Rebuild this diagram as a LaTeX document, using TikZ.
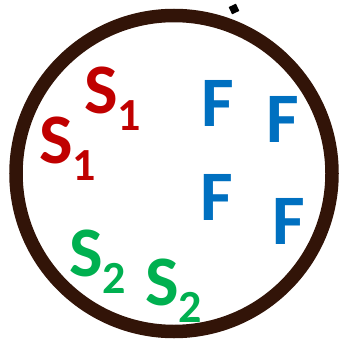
\documentclass[tikz,border=0pt]{standalone}
\usepackage{fontspec}
\setmainfont{Carlito}
\definecolor{ringbrown}{RGB}{50,20,8}
\definecolor{sred}{RGB}{192,0,0}
\definecolor{fblue}{RGB}{0,112,192}
\definecolor{sgreen}{RGB}{0,176,80}
\newcommand{\lbl}[2]{S\raisebox{-17pt}{\fontsize{46}{46}\selectfont #1}}
\begin{document}
\begin{tikzpicture}[x=1pt,y=-1pt,
  lab/.style={anchor=base west,inner sep=0pt,font=\fontsize{71}{71}\selectfont\bfseries},
  redlab/.style={lab,text=sred},
  bluelab/.style={lab,text=fblue},
  greenlab/.style={lab,text=sgreen}]
\useasboundingbox (0,0) rectangle (340,340);
\node[circle,draw=ringbrown,line width=13.5pt,minimum size=316pt,inner sep=0pt] (ring) at (174,173.5) {};
\fill[black,rotate around={25:(234,9)}] (230,5) rectangle (238,13);
\node[redlab] (s1a) at (84,113) {\lbl{1}{}};
\node[redlab] (s1b) at (39,163) {\lbl{1}{}};
\node[bluelab] (f1) at (201,126) {F};
\node[bluelab] (f2) at (266,142) {F};
\node[bluelab] (f3) at (200,220) {F};
\node[bluelab] (f4) at (272,244) {F};
\node[greenlab] (s2a) at (69,276) {\lbl{2}{}};
\node[greenlab] (s2b) at (145,305) {\lbl{2}{}};
\end{tikzpicture}
\end{document}
